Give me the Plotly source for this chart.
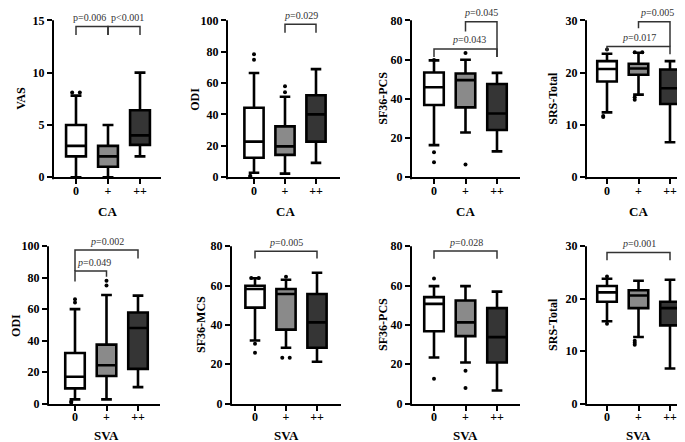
import plotly.graph_objects as go

W, H = 685, 442

# categories and panel titles
CATS = ['0', '+', '++']
Y_TITLES = ['VAS', 'ODI', 'SF36-PCS', 'SRS-Total', 'ODI', 'SF36-MCS', 'SF36-PCS', 'SRS-Total']
X_TITLES = ['CA', 'CA', 'CA', 'CA', 'SVA', 'SVA', 'SVA', 'SVA']
Y_MAX = [15, 100, 80, 30, 100, 80, 80, 30]
Y_STEP = [5, 20, 20, 10, 20, 20, 20, 10]

# box statistics per panel, one value per category (0, +, ++)
Q1 = [[2.0, 1.0, 3.1], [12.4, 14.3, 22.7], [36.8, 35.6, 24.1], [18.3, 19.6, 14.0],
      [9.7, 17.5, 22.1], [48.8, 37.6, 28.4], [36.8, 34.3, 20.9], [19.4, 18.2, 14.9]]
MEDIAN = [[3.0, 2.0, 4.0], [22.7, 19.7, 40.1], [45.9, 49.5, 32.5], [20.7, 20.8, 17.0],
          [17.1, 24.4, 48.0], [58.2, 55.7, 41.3], [50.7, 41.3, 33.8], [21.2, 20.6, 18.2]]
Q3 = [[5.0, 3.0, 6.4], [44.3, 32.4, 52.3], [53.4, 52.9, 47.5], [22.2, 21.7, 20.6],
      [32.2, 37.5, 57.9], [59.9, 58.2, 55.7], [54.1, 52.4, 48.5], [22.4, 21.6, 19.4]]
LOWER = [[0.0, 0.0, 2.0], [2.9, 2.3, 9.2], [16.4, 22.8, 13.2], [12.4, 15.8, 6.7],
         [2.7, 2.7, 10.5], [32.1, 28.4, 21.3], [23.4, 20.9, 6.7], [15.7, 12.7, 6.7]]
UPPER = [[7.8, 5.0, 10.0], [66.4, 51.3, 68.9], [59.6, 59.9, 53.2], [23.6, 23.8, 22.2],
         [60.0, 69.0, 68.6], [63.7, 62.9, 66.5], [59.7, 59.7, 56.9], [23.8, 23.4, 23.6]]
OUTLIERS = [
    [[8.1, 8.1], [], []],
    [[78.4, 74.8, 1.0, 0.3], [58.0, 54.2], []],
    [[59.8, 12.7, 7.7], [63.3, 6.5], []],
    [[24.4, 11.7, 11.5], [23.9, 23.9, 15.3, 14.8], []],
    [[66.3, 64.2, 1.3, 0.5], [78.0, 75.0], []],
    [[63.8, 63.8, 30.4, 25.8], [64.5, 23.3, 23.3], []],
    [[63.6, 12.6], [16.7, 8.0], []],
    [[24.2, 15.2], [12.0, 11.6, 11.2], []],
]

# significance brackets:
# (from, to, height, leg end at from, leg end at to, label, label x)
BRACKETS = [
    [(0, 1, 14.4, 13.6, 13.6, 'p=0.006', 0.42), (1, 2, 14.4, 13.6, 13.6, 'p<0.001', 1.61)],
    [(1, 2, 97.5, 92.0, 92.0, '<i>p</i>=0.029', 1.5)],
    [(0, 2, 65.4, 61.3, 61.3, '<i>p</i>=0.043', 1.1), (1, 2, 79.3, 74.3, 61.3, '<i>p</i>=0.045', 1.5)],
    [(0, 2, 25.0, 24.2, 23.5, '<i>p</i>=0.017', 1.0), (1, 2, 29.7, 28.5, 25.0, '<i>p</i>=0.005', 1.58)],
    [(0, 1, 84.2, 77.5, 80.6, '<i>p</i>=0.049', 0.6), (0, 2, 97.5, 84.2, 92.2, '<i>p</i>=0.002', 1.0)],
    [(0, 2, 77.4, 73.7, 73.7, '<i>p</i>=0.005', 1.0)],
    [(0, 2, 77.5, 73.6, 73.6, '<i>p</i>=0.028', 1.0)],
    [(0, 2, 28.8, 27.3, 27.3, '<i>p</i>=0.001', 1.0)],
]

FILLS = ['#ffffff', '#8a8a8a', '#353535']
FONT = 'Liberation Serif'

# pixel geometry of each panel
X_LEFT = [45, 219, 403, 578, 40, 223, 403, 578]
X_CAT0 = [68, 246, 426, 599, 67, 247, 426, 599]
X_CAT2 = [132, 308, 489, 662, 130, 309, 489, 662]
X_RIGHT = [153, 332, 512, 684, 152, 333, 512, 684]
ROW_ZERO = [172, 402]
ROW_TOP_TICK = [12.5, 242]
ROW_DOMAIN_TOP = [0, 222]
ROW_XTITLE_Y = [207, 434]
YTITLE_X = [13, 187, 375, 545, 8, 193, 375, 545]

fig = go.Figure()
shapes, annotations = [], []

for p in range(8):
    row = p // 4
    n = '' if p == 0 else str(p + 1)
    xa, ya = 'x' + n, 'y' + n
    sp = (X_CAT2[p] - X_CAT0[p]) / 2
    x_lo = -(X_CAT0[p] - X_LEFT[p]) / sp
    x_hi = 2 + (X_RIGHT[p] - X_CAT2[p]) / sp
    zero, top, dtop = ROW_ZERO[row], ROW_TOP_TICK[row], ROW_DOMAIN_TOP[row]
    y_top = Y_MAX[p] * (zero - dtop) / (zero - top)

    for i in range(3):
        fig.add_trace(go.Box(
            x=[i], q1=[Q1[p][i]], median=[MEDIAN[p][i]], q3=[Q3[p][i]],
            lowerfence=[LOWER[p][i]], upperfence=[UPPER[p][i]],
            width=0.62, whiskerwidth=0.55, fillcolor=FILLS[i],
            line=dict(color='black', width=2.6),
            xaxis=xa, yaxis=ya, showlegend=False, hoverinfo='skip'))
        outs = OUTLIERS[p][i]
        if outs:
            # small horizontal jitter for outliers sharing the same value
            xs, seen = [], {}
            for v in outs:
                same = [u for u in outs if abs(u - v) < 0.02 * Y_MAX[p]]
                if len(same) > 1:
                    k = seen.get(v, 0)
                    seen[v] = k + 1
                    xs.append(i + (-0.12 if k % 2 == 0 else 0.12))
                else:
                    xs.append(i)
            fig.add_trace(go.Scatter(
                x=xs, y=outs, mode='markers', cliponaxis=False,
                marker=dict(color='black', size=4),
                xaxis=xa, yaxis=ya, showlegend=False, hoverinfo='skip'))

    dom_x = [X_LEFT[p] / W, X_RIGHT[p] / W]
    dom_y = [1 - zero / H, 1 - dtop / H]
    fig.update_layout(**{
        ('xaxis' + n): dict(
            domain=dom_x, range=[x_lo, x_hi], anchor=ya,
            tickvals=[0, 1, 2], ticktext=CATS,
            showline=True, linecolor='black', linewidth=2,
            ticks='outside', ticklen=5, tickwidth=2, tickcolor='black',
            ticklabelstandoff=-4,
            showgrid=False, zeroline=False,
            tickfont=dict(family=FONT, size=12, color='black', weight='bold')),
        ('yaxis' + n): dict(
            domain=dom_y, range=[0, y_top], anchor=xa,
            tickvals=list(range(0, Y_MAX[p] + 1, Y_STEP[p])),
            showline=False, ticks='outside', ticklen=5, tickwidth=2, tickcolor='black',
            showgrid=False, zeroline=False,
            tickfont=dict(family=FONT, size=12, color='black', weight='bold')),
    })

    # y axis line only up to the top tick
    shapes.append(dict(type='line', xref=xa + ' domain', yref=ya + ' domain',
                       x0=0, x1=0, y0=-0.012, y1=Y_MAX[p] / y_top,
                       line=dict(color='black', width=2)))

    for (a, b, yb, la, lb, label, lx) in BRACKETS[p]:
        shapes.append(dict(type='path', xref=xa, yref=ya,
                           path=f'M {a},{la} L {a},{yb} L {b},{yb} L {b},{lb}',
                           line=dict(color='#333333', width=1.5)))
        annotations.append(dict(xref=xa, yref=ya, x=lx, y=yb,
                                yanchor='middle', yshift=9, text=label, showarrow=False,
                                font=dict(family=FONT, size=10, color='#333333')))

    annotations.append(dict(xref='paper', yref='paper', x=YTITLE_X[p] / W,
                            y=1 - (zero + top) / 2 / H, text=Y_TITLES[p], textangle=-90,
                            xanchor='center', yanchor='middle', showarrow=False,
                            font=dict(family=FONT, size=12, color='black', weight='bold')))
    annotations.append(dict(xref='paper', yref='paper', x=(X_CAT0[p] + X_CAT2[p]) / 2 / W,
                            y=1 - ROW_XTITLE_Y[row] / H, text=X_TITLES[p],
                            xanchor='center', yanchor='middle', showarrow=False,
                            font=dict(family=FONT, size=13, color='black', weight='bold')))

fig.update_layout(width=W, height=H, margin=dict(l=0, r=0, t=0, b=0),
                  paper_bgcolor='white', plot_bgcolor='white',
                  shapes=shapes, annotations=annotations, showlegend=False)

fig.write_html('out.html')
